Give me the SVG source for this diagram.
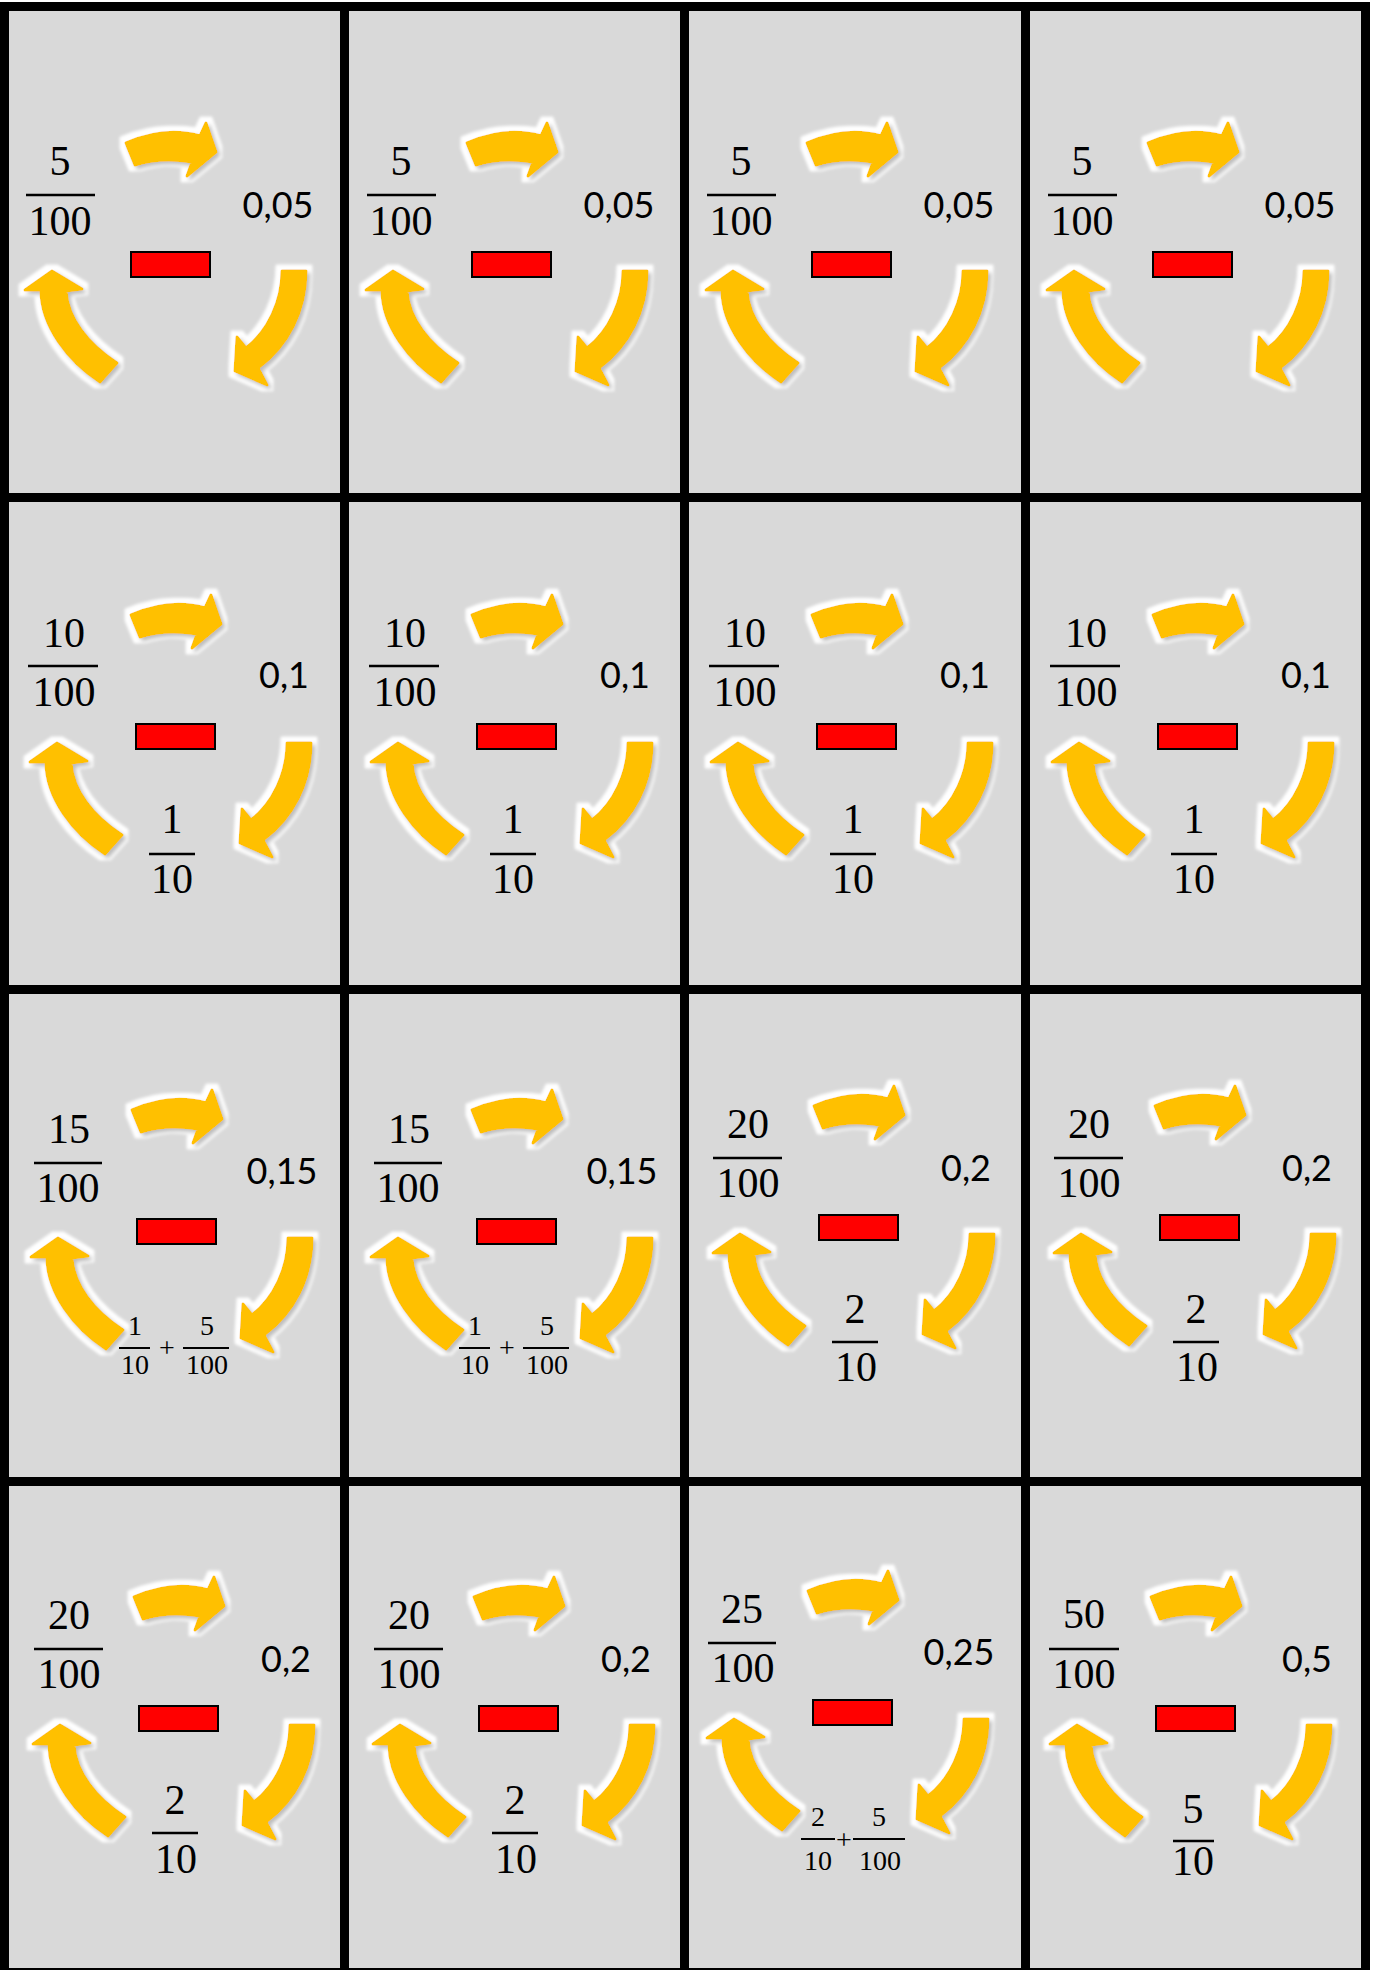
<svg xmlns="http://www.w3.org/2000/svg" xmlns:xlink="http://www.w3.org/1999/xlink" width="1373" height="1970" viewBox="0 0 1373 1970">
<style>
.bg{fill:#D9D9D9}
.fr{font-family:"Liberation Serif","Times New Roman",serif;font-size:42px;fill:#000;text-anchor:middle}
.sm{font-family:"Liberation Serif","Times New Roman",serif;font-size:28px;fill:#000;text-anchor:middle}
.dec{font-family:Lato,"Liberation Sans",sans-serif;font-size:36px;fill:#000;text-anchor:middle}
.bar{stroke:#000;stroke-width:2.5}
.sbar{stroke:#000;stroke-width:2}
.arw{fill:#FFC000;stroke:#FFC000;stroke-width:3;stroke-linejoin:round}
.minus{fill:#FF0000;stroke:#000;stroke-width:2}
</style>
<defs>
<filter id="glow" x="-40%" y="-40%" width="180%" height="180%">
  <feMorphology in="SourceAlpha" operator="dilate" radius="5" result="d"/>
  <feGaussianBlur in="d" stdDeviation="1.8" result="db"/>
  <feFlood flood-color="#FFFFFF"/>
  <feComposite in2="db" operator="in" result="white"/>
  <feGaussianBlur in="SourceAlpha" stdDeviation="2.2" result="sb"/>
  <feOffset in="sb" dx="3" dy="3" result="so"/>
  <feFlood flood-color="#000" flood-opacity="0.5"/>
  <feComposite in2="so" operator="in" result="shadow"/>
  <feMerge><feMergeNode in="white"/><feMergeNode in="shadow"/><feMergeNode in="SourceGraphic"/></feMerge>
</filter>
<g id="cyc">
  <g filter="url(#glow)">
    <path class="arw" d="M -4,-108 Q 35,-125 70,-115 L 76,-128 L 86,-99 L 57,-75 L 62,-89 Q 30,-94 5,-86 Z"/>
    <path class="arw" d="M 152,20 L 176,20 C 176,60 158,95 128,117 L 137,134 L 105,120 L 107,86 L 116,97 C 138,80 152,50 152,20 Z"/>
    <path class="arw" d="M -78,20 L -48,38 L -64,40 C -62,68 -42,93 -13,112 L -30,131 C -62,110 -89,75 -89,39 L -105,39 Z"/>
  </g>
  <rect class="minus" x="1" y="1" width="79" height="25"/>
</g>
</defs>

<rect x="0" y="2" width="1370" height="1968" fill="#000"/>

<g id="cells-bg">
<rect class="bg" x="9" y="11" width="331" height="482"/>
<rect class="bg" x="349" y="11" width="331" height="482"/>
<rect class="bg" x="689" y="11" width="332" height="482"/>
<rect class="bg" x="1030" y="11" width="331" height="482"/>
<rect class="bg" x="9" y="502" width="331" height="483"/>
<rect class="bg" x="349" y="502" width="331" height="483"/>
<rect class="bg" x="689" y="502" width="332" height="483"/>
<rect class="bg" x="1030" y="502" width="331" height="483"/>
<rect class="bg" x="9" y="994" width="331" height="483"/>
<rect class="bg" x="349" y="994" width="331" height="483"/>
<rect class="bg" x="689" y="994" width="332" height="483"/>
<rect class="bg" x="1030" y="994" width="331" height="483"/>
<rect class="bg" x="9" y="1486" width="331" height="482"/>
<rect class="bg" x="349" y="1486" width="331" height="482"/>
<rect class="bg" x="689" y="1486" width="332" height="482"/>
<rect class="bg" x="1030" y="1486" width="331" height="482"/>
</g>

<g id="connectors"></g>

<!-- Row 1 -->
<g id="card1" transform="translate(130,251)">
  <use href="#cyc"/>
  <text class="fr" x="-70" y="-76">5</text><line class="bar" x1="-104" y1="-56" x2="-35" y2="-56"/><text class="fr" x="-70" y="-16">100</text>
  <text class="dec" x="148" y="-33">0,05</text>
</g>
<g id="card2" transform="translate(471,251)">
  <use href="#cyc"/>
  <text class="fr" x="-70" y="-76">5</text><line class="bar" x1="-104" y1="-56" x2="-35" y2="-56"/><text class="fr" x="-70" y="-16">100</text>
  <text class="dec" x="148" y="-33">0,05</text>
</g>
<g id="card3" transform="translate(811,251)">
  <use href="#cyc"/>
  <text class="fr" x="-70" y="-76">5</text><line class="bar" x1="-104" y1="-56" x2="-35" y2="-56"/><text class="fr" x="-70" y="-16">100</text>
  <text class="dec" x="148" y="-33">0,05</text>
</g>
<g id="card4" transform="translate(1152,251)">
  <use href="#cyc"/>
  <text class="fr" x="-70" y="-76">5</text><line class="bar" x1="-104" y1="-56" x2="-35" y2="-56"/><text class="fr" x="-70" y="-16">100</text>
  <text class="dec" x="148" y="-33">0,05</text>
</g>

<!-- Row 2 -->
<g id="card5" transform="translate(135,723)">
  <use href="#cyc"/>
  <text class="fr" x="-71" y="-76">10</text><line class="bar" x1="-107" y1="-57" x2="-37" y2="-57"/><text class="fr" x="-71" y="-17">100</text>
  <text class="dec" x="149" y="-35">0,1</text>
  <text class="fr" x="37" y="110">1</text><line class="bar" x1="14" y1="131" x2="60" y2="131"/><text class="fr" x="37" y="170">10</text>
</g>
<g id="card6" transform="translate(476,723)">
  <use href="#cyc"/>
  <text class="fr" x="-71" y="-76">10</text><line class="bar" x1="-107" y1="-57" x2="-37" y2="-57"/><text class="fr" x="-71" y="-17">100</text>
  <text class="dec" x="149" y="-35">0,1</text>
  <text class="fr" x="37" y="110">1</text><line class="bar" x1="14" y1="131" x2="60" y2="131"/><text class="fr" x="37" y="170">10</text>
</g>
<g id="card7" transform="translate(816,723)">
  <use href="#cyc"/>
  <text class="fr" x="-71" y="-76">10</text><line class="bar" x1="-107" y1="-57" x2="-37" y2="-57"/><text class="fr" x="-71" y="-17">100</text>
  <text class="dec" x="149" y="-35">0,1</text>
  <text class="fr" x="37" y="110">1</text><line class="bar" x1="14" y1="131" x2="60" y2="131"/><text class="fr" x="37" y="170">10</text>
</g>
<g id="card8" transform="translate(1157,723)">
  <use href="#cyc"/>
  <text class="fr" x="-71" y="-76">10</text><line class="bar" x1="-107" y1="-57" x2="-37" y2="-57"/><text class="fr" x="-71" y="-17">100</text>
  <text class="dec" x="149" y="-35">0,1</text>
  <text class="fr" x="37" y="110">1</text><line class="bar" x1="14" y1="131" x2="60" y2="131"/><text class="fr" x="37" y="170">10</text>
</g>

<!-- Row 3 -->
<g id="card9" transform="translate(136,1218)">
  <use href="#cyc"/>
  <text class="fr" x="-67" y="-75">15</text><line class="bar" x1="-102" y1="-55" x2="-34" y2="-55"/><text class="fr" x="-68" y="-16">100</text>
  <text class="dec" x="146" y="-34">0,15</text>
  <text class="sm" x="-1" y="117">1</text><line class="sbar" x1="-17" y1="130" x2="14" y2="130"/><text class="sm" x="-1" y="156">10</text>
  <text class="sm" x="31" y="139">+</text>
  <text class="sm" x="71" y="117">5</text><line class="sbar" x1="47" y1="130" x2="93" y2="130"/><text class="sm" x="71" y="156">100</text>
</g>
<g id="card10" transform="translate(476,1218)">
  <use href="#cyc"/>
  <text class="fr" x="-67" y="-75">15</text><line class="bar" x1="-102" y1="-55" x2="-34" y2="-55"/><text class="fr" x="-68" y="-16">100</text>
  <text class="dec" x="146" y="-34">0,15</text>
  <text class="sm" x="-1" y="117">1</text><line class="sbar" x1="-17" y1="130" x2="14" y2="130"/><text class="sm" x="-1" y="156">10</text>
  <text class="sm" x="31" y="139">+</text>
  <text class="sm" x="71" y="117">5</text><line class="sbar" x1="47" y1="130" x2="93" y2="130"/><text class="sm" x="71" y="156">100</text>
</g>
<g id="card11" transform="translate(818,1214)">
  <use href="#cyc"/>
  <text class="fr" x="-70" y="-76">20</text><line class="bar" x1="-105" y1="-56" x2="-36" y2="-56"/><text class="fr" x="-70" y="-17">100</text>
  <text class="dec" x="148" y="-33">0,2</text>
  <text class="fr" x="37" y="109">2</text><line class="bar" x1="14" y1="128" x2="60" y2="128"/><text class="fr" x="38" y="167">10</text>
</g>
<g id="card12" transform="translate(1159,1214)">
  <use href="#cyc"/>
  <text class="fr" x="-70" y="-76">20</text><line class="bar" x1="-105" y1="-56" x2="-36" y2="-56"/><text class="fr" x="-70" y="-17">100</text>
  <text class="dec" x="148" y="-33">0,2</text>
  <text class="fr" x="37" y="109">2</text><line class="bar" x1="14" y1="128" x2="60" y2="128"/><text class="fr" x="38" y="167">10</text>
</g>

<!-- Row 4 -->
<g id="card13" transform="translate(138,1705)">
  <use href="#cyc"/>
  <text class="fr" x="-69" y="-76">20</text><line class="bar" x1="-104" y1="-56" x2="-35" y2="-56"/><text class="fr" x="-69" y="-17">100</text>
  <text class="dec" x="148" y="-33">0,2</text>
  <text class="fr" x="37" y="109">2</text><line class="bar" x1="14" y1="128" x2="60" y2="128"/><text class="fr" x="38" y="168">10</text>
</g>
<g id="card14" transform="translate(478,1705)">
  <use href="#cyc"/>
  <text class="fr" x="-69" y="-76">20</text><line class="bar" x1="-104" y1="-56" x2="-35" y2="-56"/><text class="fr" x="-69" y="-17">100</text>
  <text class="dec" x="148" y="-33">0,2</text>
  <text class="fr" x="37" y="109">2</text><line class="bar" x1="14" y1="128" x2="60" y2="128"/><text class="fr" x="38" y="168">10</text>
</g>
<g id="card15" transform="translate(812,1699)">
  <use href="#cyc"/>
  <text class="fr" x="-70" y="-76">25</text><line class="bar" x1="-104" y1="-56" x2="-36" y2="-56"/><text class="fr" x="-69" y="-17">100</text>
  <text class="dec" x="147" y="-34">0,25</text>
  <text class="sm" x="6" y="127">2</text><line class="sbar" x1="-11" y1="140" x2="23" y2="140"/><text class="sm" x="6" y="171">10</text>
  <text class="sm" x="32" y="150">+</text>
  <text class="sm" x="67" y="127">5</text><line class="sbar" x1="41" y1="140" x2="93" y2="140"/><text class="sm" x="68" y="171">100</text>
</g>
<g id="card16" transform="translate(1155,1705)">
  <use href="#cyc"/>
  <text class="fr" x="-71" y="-77">50</text><line class="bar" x1="-106" y1="-56" x2="-36" y2="-56"/><text class="fr" x="-71" y="-17">100</text>
  <text class="dec" x="152" y="-33">0,5</text>
  <text class="fr" x="38" y="118">5</text><line class="bar" x1="18" y1="136" x2="59" y2="136"/><text class="fr" x="38" y="170">10</text>
</g>
</svg>
